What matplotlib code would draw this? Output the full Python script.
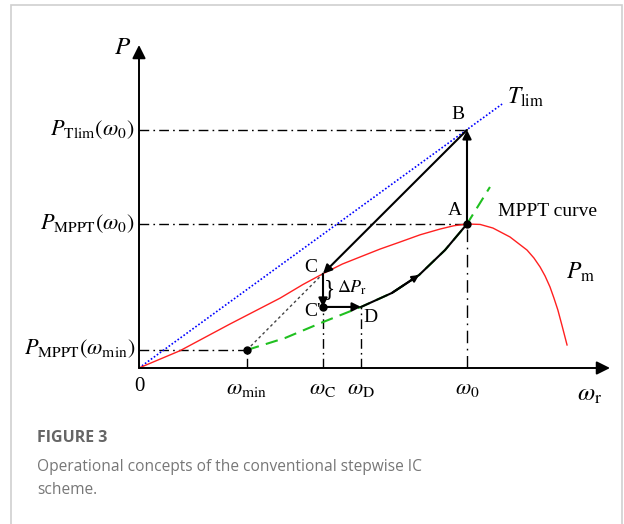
import matplotlib
matplotlib.use("Agg")
import matplotlib.pyplot as plt
from matplotlib.patches import Rectangle

plt.rcParams["font.family"] = ["Liberation Serif", "DejaVu Serif"]
plt.rcParams["mathtext.fontset"] = "stix"

# key speeds (normalised to omega_0) and powers (normalised to P_MPPT(omega_0))
w_min, w_C, w_D, w_0 = 0.329, 0.561, 0.677, 1.0
P_min, P_C, P_Cp, P_A, P_B = 0.125, 0.655, 0.424, 1.0, 1.653

# mechanical power curve P_m
pm_w = [0.0, 0.125, 0.277, 0.430, 0.500, 0.561, 0.620, 0.674, 0.735, 0.796,
        0.857, 0.918, 0.960, 1.0, 1.040, 1.079, 1.131, 1.155, 1.183, 1.204,
        1.223, 1.238, 1.253, 1.265, 1.277, 1.290, 1.305]
pm_p = [0.0, 0.120, 0.305, 0.485, 0.580, 0.655, 0.722, 0.771, 0.826, 0.875,
        0.925, 0.965, 0.988, 1.0, 0.997, 0.972, 0.910, 0.868, 0.819, 0.764,
        0.701, 0.639, 0.563, 0.486, 0.403, 0.292, 0.160]

# MPPT curve
mppt_w = [0.329, 0.445, 0.561, 0.677, 0.771, 0.854, 0.933, 1.0, 1.070]
mppt_p = [0.125, 0.208, 0.319, 0.424, 0.521, 0.646, 0.819, 1.0, 1.257]

# trajectory D -> A
da_w = [0.677, 0.771, 0.854, 0.933, 1.0]
da_p = [0.424, 0.521, 0.646, 0.819, 1.0]

# torque limit line
tlim_w = [0.0, 1.107]
tlim_p = [0.0, 1.833]

fig = plt.figure(figsize=(6.24, 5.24), dpi=100)
ax = fig.add_axes([0, 0, 1, 1])
ax.set_xlim(-139 / 328, (624 - 139) / 328)
ax.set_ylim(-156 / 144, 368 / 144)
ax.axis("off")

fig.patches.append(Rectangle((11 / 624, -0.1), 611 / 624, 1.1 - 5 / 524,
                             transform=fig.transFigure, fill=False,
                             edgecolor="#cfcfcf", lw=1.2))

dd = (0, (7, 3, 1.2, 3))
ref = dict(color="k", lw=1.0, ls=dd)
# reference dash-dot lines
ax.plot([0, w_0], [P_B, P_B], **ref)
ax.plot([0, w_0], [P_A, P_A], **ref)
ax.plot([0, w_min], [P_min, P_min], **ref)
ax.plot([w_min, w_min], [0, P_min], **ref)
ax.plot([w_C, w_C], [0, P_Cp], **ref)
ax.plot([w_D, w_D], [0, P_Cp], **ref)
ax.plot([w_0, w_0], [0, P_A], color="k", lw=1.0, ls=(0, (9, 4, 1.2, 4)))

# curves
ax.plot(tlim_w, tlim_p, color="blue", lw=1.2, ls=(0, (1, 1.2)))
ax.plot(pm_w, pm_p, color="#ff2020", lw=1.0)
ax.plot(mppt_w, mppt_p, color="#20c020", lw=1.5, ls=(0, (6, 3.5)))
ax.plot([w_min, w_C], [P_min, P_C], color="#444444", lw=1.0, ls=(0, (2, 2)))
ax.plot(da_w, da_p, color="k", lw=1.5)

arr = dict(arrowstyle="-|>", color="k", lw=1.5, mutation_scale=13,
           shrinkA=0, shrinkB=0)
ax.annotate("", xy=(w_0, P_B), xytext=(w_0, P_A), arrowprops=arr)
ax.annotate("", xy=(w_C, P_C), xytext=(w_0, P_B), arrowprops=arr)
ax.annotate("", xy=(w_C, P_Cp), xytext=(w_C, P_C), arrowprops=arr)
ax.annotate("", xy=(w_D, P_Cp), xytext=(w_C, P_Cp), arrowprops=arr)
ax.annotate("", xy=(da_w[2], da_p[2]), xytext=(da_w[1], da_p[1]),
            arrowprops=dict(arr, mutation_scale=10))

ax.plot([w_0, w_C, w_min], [P_A, P_Cp, P_min], "o", color="k", ms=5)

# axes with arrows
ax.annotate("", xy=(0, 2.243), xytext=(0, 0),
            arrowprops=dict(arrowstyle="-|>", color="k", lw=1.4,
                            mutation_scale=20, shrinkA=0, shrinkB=0))
ax.annotate("", xy=(1.436, 0), xytext=(0, 0),
            arrowprops=dict(arrowstyle="-|>", color="k", lw=1.4,
                            mutation_scale=20, shrinkA=0, shrinkB=0))

fs = 14
yl = 16
ax.text(-0.025, 2.22, "$P$", fontsize=18, ha="right", va="center")
ax.text(-0.012, P_B, r"$P_{\mathrm{Tlim}}(\omega_0)$", fontsize=yl,
        ha="right", va="center")
ax.text(-0.012, P_A, r"$P_{\mathrm{MPPT}}(\omega_0)$", fontsize=yl,
        ha="right", va="center")
ax.text(-0.012, P_min + 0.01, r"$P_{\mathrm{MPPT}}(\omega_{\min})$", fontsize=yl,
        ha="right", va="center")

ty = -0.13
ax.text(0, ty, "0", fontsize=fs + 1, ha="center", va="center")
ax.text(w_min, ty - 0.02, r"$\omega_{\min}$", fontsize=16, ha="center", va="center")
ax.text(w_C, ty - 0.02, r"$\omega_{\mathrm{C}}$", fontsize=16, ha="center", va="center")
ax.text(w_D, ty - 0.02, r"$\omega_{\mathrm{D}}$", fontsize=16, ha="center", va="center")
ax.text(w_0, ty - 0.02, r"$\omega_0$", fontsize=16, ha="center", va="center")
ax.text(1.375, -0.19, r"$\omega_{\mathrm{r}}$", fontsize=18, ha="center", va="center")

ax.text(0.973, 1.76, "B", fontsize=fs, ha="center", va="center")
ax.text(0.963, 1.097, "A", fontsize=fs, ha="center", va="center")
ax.text(0.524, 0.695, "C", fontsize=fs, ha="center", va="center")
ax.text(0.53, 0.39, "C'", fontsize=fs, ha="center", va="center")
ax.text(0.705, 0.35, "D", fontsize=fs, ha="center", va="center")
ax.text(1.095, 1.09, "MPPT curve", fontsize=fs, ha="left", va="center")
ax.text(1.345, 0.665, r"$P_{\mathrm{m}}$", fontsize=17, ha="center", va="center")
ax.text(1.122, 1.88, r"$T_{\mathrm{lim}}$", fontsize=17, ha="left", va="center")
ax.text(0.58, 0.545, "}", fontsize=17, ha="center", va="center")
ax.text(0.605, 0.555, r"$\Delta P_{\mathrm{r}}$", fontsize=13, ha="left", va="center")

fig.text(37 / 624, 1 - 438 / 524, "FIGURE 3", fontsize=11.5, fontweight="bold",
         color="#666666", family=["Open Sans", "DejaVu Sans"], va="center")
fig.text(37 / 624, 1 - 467 / 524,
         "Operational concepts of the conventional stepwise IC", fontsize=11.2,
         color="#777777", family=["Open Sans", "DejaVu Sans"], va="center")
fig.text(37 / 624, 1 - 490 / 524, "scheme.", fontsize=11.2,
         color="#777777", family=["Open Sans", "DejaVu Sans"], va="center")

fig.savefig("out.png", dpi=100)
